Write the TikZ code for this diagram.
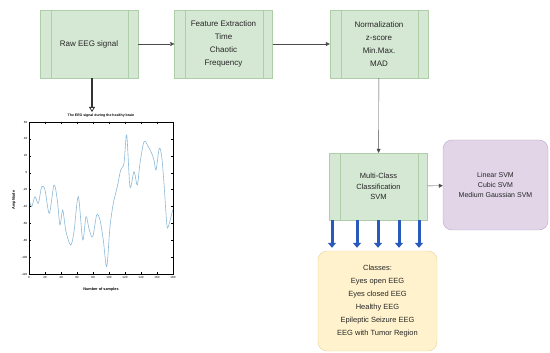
\documentclass[tikz,border=0pt]{standalone}
\usepackage{fontspec}
\setmainfont{Liberation Sans}
\usetikzlibrary{arrows.meta}

\definecolor{procfill}{RGB}{213,232,212}
\definecolor{procline}{RGB}{175,205,168}
\definecolor{svmfill}{RGB}{225,213,231}
\definecolor{svmline}{RGB}{185,165,200}
\definecolor{classfill}{RGB}{255,242,204}
\definecolor{classline}{RGB}{230,210,150}
\definecolor{arrowblue}{RGB}{40,90,190}
\definecolor{sigblue}{RGB}{140,185,215}

\tikzset{
  procbox/.style={draw=procline, fill=procfill, minimum width=98pt, minimum height=68pt,
    align=center, inner sep=2pt, text=black!85},
  svmbox/.style={draw=svmline, fill=svmfill, rounded corners=9pt, minimum width=105pt,
    minimum height=90pt, align=center, text=black!85, font=\fontsize{7}{10}\selectfont},
  classbox/.style={draw=classline, fill=classfill, rounded corners=9pt, minimum width=119pt,
    minimum height=100pt, align=center, text=black!85, font=\fontsize{7.5}{13}\selectfont},
  flow/.style={draw=black!70, -{Triangle[length=4pt,width=4pt]}},
  blue arrow/.style={draw=arrowblue, line width=3pt, -{Triangle[length=5pt,width=8pt]}, shorten >=3pt},
  tick label/.style={font=\fontsize{3}{3}\selectfont, inner sep=0.5pt}
}

\newcommand{\procsides}[1]{%
  \draw[procline] ([xshift=11pt]#1.north west) -- ([xshift=11pt]#1.south west);
  \draw[procline] ([xshift=-10pt]#1.north east) -- ([xshift=-10pt]#1.south east);}

\begin{document}
\begin{tikzpicture}[x=1pt,y=1pt]
  \useasboundingbox (0,0) rectangle (550,-353);
  % processing steps
  \node[procbox, font=\fontsize{8}{13}\selectfont] (raw) at (89,-44) {Raw EEG signal};
  \node[procbox, font=\fontsize{8}{13}\selectfont] (feat) at (223.5,-44) {Feature Extraction\\Time\\Chaotic\\Frequency};
  \node[procbox, font=\fontsize{8}{13}\selectfont] (norm) at (379,-44) {Normalization\\z-score\\Min.Max.\\MAD};
  \node[procbox, minimum height=67pt, font=\fontsize{7.5}{10.5}\selectfont] (multi) at (378.5,-186.5) {Multi-Class\\Classification\\SVM};
  \procsides{raw}
  \procsides{feat}
  \procsides{norm}
  \procsides{multi}
  % svm kernels and classes
  \node[svmbox] (svm) at (495.5,-185) {Linear SVM\\Cubic SVM\\Medium Gaussian SVM};
  \node[classbox] (classes) at (377.5,-301) {Classes:\\Eyes open EEG\\Eyes closed EEG\\Healthy EEG\\Epileptic Seizure EEG\\EEG with Tumor Region};
  % connectors
  \draw[flow] (raw) -- (feat);
  \draw[flow] (feat) -- (norm);
  \draw[flow] (norm) -- (multi);
  \draw[flow] (multi) -- (svm);
  \foreach \x in {332,357,378,399,419}
  {
  \draw[blue arrow] (multi.south -| \x,0) -- (classes.north -| \x,0);
  }
  % signal plot
  \coordinate (plottop) at (92,-112);
  \draw[black!80, line width=1.6pt, -{Triangle[open,length=5pt,width=6pt,line width=0.8pt]}] ([xshift=3pt]raw.south) -- (plottop);
  \node[font=\fontsize{3.5}{3.5}\selectfont\bfseries, inner sep=0pt] (ptitle) at (101,-116) {The EEG signal during the healthy brain};
  \draw[sigblue, line width=0.6pt] plot[smooth, tension=0.5] coordinates {
    (29.3,-200) (31.7,-206.7) (35,-196.7) (38.3,-203.3) (41.7,-186.7) (45,-190)
    (49.3,-213.3) (54,-185) (57.3,-200) (60,-225) (62.7,-210) (66,-231.7)
    (70.7,-245) (74,-231.7) (78.3,-196.7) (82.7,-240) (86,-216.7) (89.3,-230)
    (92.7,-236.7) (96.7,-215) (100,-220) (103.3,-240) (106.7,-266.7) (110,-226.7)
    (113.3,-203.3) (117.3,-186.7) (120.7,-170) (124,-163.3) (126.7,-135) (130,-186.7)
    (134,-171.7) (137.3,-185) (140,-163.3) (144,-141.7) (148.3,-146.7) (151.7,-153.3)
    (154,-160) (156,-170) (159.3,-148.3) (161.7,-156.7) (164,-183.3) (166.7,-223.3)
    (168.3,-226.7) (172.7,-210)};
  \draw[black, line width=0.7pt] (29,-122) rectangle (173,-274);
  % y ticks
  \foreach \v [count=\i from 0] in {60,40,20,0,-20,-40,-60,-80,-100,-120}
  {
  \draw[black, line width=0.3pt] (29,-122-\i*16.89) -- +(2,0);
  \draw[black, line width=0.3pt] (173,-122-\i*16.89) -- +(-2,0);
  \node[tick label, anchor=east] at (28,-122-\i*16.89) {\v};
  }
  % x ticks
  \foreach \v [count=\i from 0] in {0,20,...,180}
  {
  \draw[black, line width=0.3pt] (29+\i*16,-274) -- +(0,2);
  \draw[black, line width=0.3pt] (29+\i*16,-122) -- +(0,-2);
  \node[tick label, anchor=north] at (29+\i*16,-276) {\v};
  }
  \node[font=\fontsize{3.8}{3.8}\selectfont\bfseries, inner sep=0pt] (xlab) at (101,-290) {Number of samples};
  \node[font=\fontsize{3.8}{3.8}\selectfont\bfseries, inner sep=0pt, rotate=90] (ylab) at (14,-200) {Amplitude};
\end{tikzpicture}
\end{document}
